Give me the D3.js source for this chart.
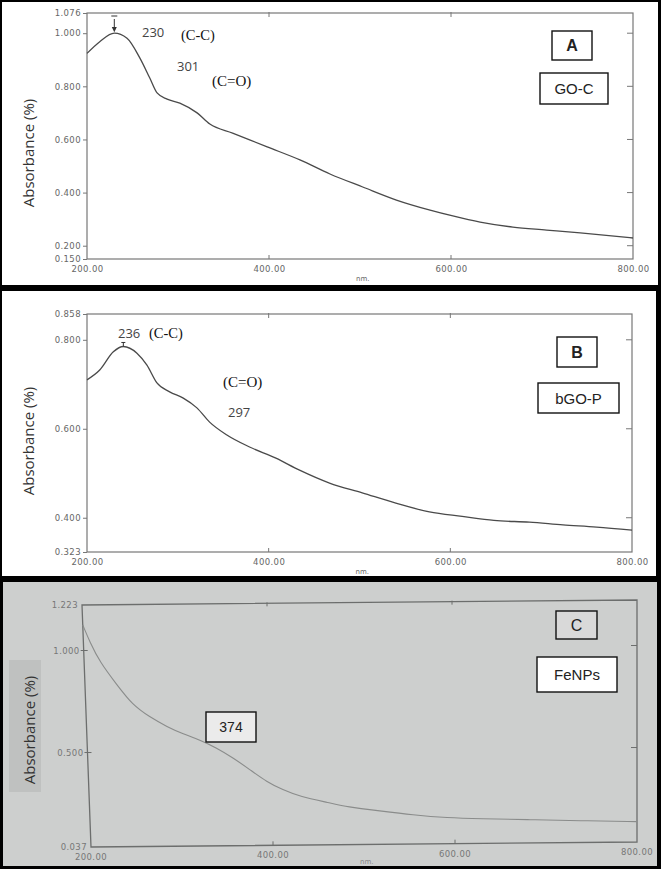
<!DOCTYPE html>
<html>

<head>
    <meta charset="utf-8">
    <style>
        body {
            margin: 0;
            background: #000;
        }

        svg {
            display: block;
        }

        .tick text {
            font-family: 'DejaVu Sans', sans-serif;
            font-size: 8.5px;
            fill: #666;
            letter-spacing: 0.4px;
        }

        .axis .domain {
            display: none;
        }

        .axis .tick line {
            stroke: #777;
        }
    </style>
</head>

<body>
    <svg width="661" height="869"></svg>
</body>

<script src="https://d3js.org/d3.v7.min.js"></script>

<script>

    // ---- data ----
    let xTicks = [200, 400, 600, 800]
    let innerXTicks = [400, 600]

    // A : GO-C
    let goC_nm = [200, 214, 230, 244, 258, 269, 277, 288, 302, 321, 335, 360, 398, 434, 467, 503, 540, 577, 602, 632, 668, 705, 742, 800]
    let goC_abs = [0.924, 0.968, 1.000, 0.981, 0.907, 0.831, 0.775, 0.752, 0.737, 0.700, 0.658, 0.624, 0.572, 0.523, 0.470, 0.421, 0.372, 0.334, 0.312, 0.289, 0.270, 0.259, 0.248, 0.229]
    let yTicksA = [0.150, 0.200, 0.400, 0.600, 0.800, 1.000, 1.076]
    let innerYTicksA = [0.200, 0.400, 0.600, 0.800, 1.000]

    // B : bGO-P
    let bgoP_nm = [200, 214, 229, 240, 255, 266, 277, 291, 306, 321, 335, 354, 379, 408, 434, 467, 503, 540, 577, 613, 648, 687, 724, 761, 800]
    let bgoP_abs = [0.710, 0.732, 0.773, 0.785, 0.770, 0.743, 0.703, 0.683, 0.669, 0.647, 0.615, 0.586, 0.559, 0.534, 0.507, 0.478, 0.456, 0.433, 0.413, 0.403, 0.394, 0.390, 0.384, 0.379, 0.372]
    let yTicksB = [0.323, 0.400, 0.600, 0.800, 0.858]
    let innerYTicksB = [0.400, 0.600, 0.800]

    // C : FeNPs
    let feNP_nm = [200, 207, 217, 235, 251, 269, 288, 305, 323, 341, 359, 377, 395, 412, 431, 463, 482, 518, 554, 592, 628, 683, 737, 800]
    let feNP_abs = [1.125, 1.042, 0.943, 0.829, 0.731, 0.672, 0.622, 0.587, 0.557, 0.517, 0.467, 0.408, 0.348, 0.309, 0.274, 0.243, 0.222, 0.201, 0.180, 0.164, 0.158, 0.151, 0.144, 0.137]
    let yTicksC = [0.037, 0.500, 1.000, 1.223]
    let innerYTicksC = [0.500, 1.000]

    let svg = d3.select("svg")

    // panel backgrounds (black shows through as the borders)
    svg.append("rect").attr("x", 2).attr("y", 2).attr("width", 656).attr("height", 283).style("fill", "white")
    svg.append("rect").attr("x", 2).attr("y", 291).attr("width", 654).attr("height", 285).style("fill", "white")
    svg.append("rect").attr("x", 3).attr("y", 582).attr("width", 654).attr("height", 284).style("fill", "#cdcfce")

    function zip(nm, ab) {
        return nm.map(function (d, i) { return { nm: d, a: ab[i] } })
    }

    function yLabel(cx, cy) {
        svg.append("text").text("Absorbance (%)")
            .attr("transform", `translate(${cx},${cy}) rotate(-90)`)
            .attr("text-anchor", "middle")
            .attr("dominant-baseline", "central")
            .attr("fill", "#333")
            .attr("font-size", "15px")
            .attr("font-family", "Open Sans")
    }

    function boxLabel(x, y, w, h, txt, fill, size, weight) {
        svg.append("rect")
            .attr("x", x).attr("y", y).attr("width", w).attr("height", h)
            .style("fill", fill).style("stroke", "#111").style("stroke-width", 1.4)
        svg.append("text").text(txt)
            .attr("x", x + w / 2).attr("y", y + h / 2)
            .attr("text-anchor", "middle")
            .attr("dominant-baseline", "central")
            .attr("fill", "#222")
            .attr("font-size", size)
            .attr("font-weight", weight)
            .attr("font-family", "Liberation Sans, Arial, sans-serif")
    }

    function plainText(txt, x, y, size, family, color) {
        svg.append("text").text(txt)
            .attr("x", x).attr("y", y)
            .attr("dominant-baseline", "central")
            .attr("fill", color)
            .attr("font-size", size)
            .attr("font-family", family)
    }

    // ---- straight spectrum panels (A and B) ----
    function drawPanel(p) {
        let x = d3.scaleLinear().domain([200, 800]).range([p.left, p.right])
        let y = d3.scaleLinear().domain(p.yDomain).range([p.bottom, p.top])

        svg.append("rect")
            .attr("x", p.left).attr("y", p.top)
            .attr("width", p.right - p.left).attr("height", p.bottom - p.top)
            .style("fill", "none").style("stroke", "#777").style("stroke-width", 1.2)

        svg.append("g")
            .attr("class", "y axis")
            .attr("transform", `translate(${p.left},0)`)
            .call(d3.axisLeft(y).tickValues(p.yTicks).tickSize(4).tickPadding(2).tickFormat(d3.format(".3f")))

        svg.append("g")
            .attr("class", "x axis")
            .attr("transform", `translate(0,${p.bottom})`)
            .call(d3.axisBottom(x).tickValues(xTicks).tickSize(0).tickPadding(7).tickFormat(d3.format(".2f")))

        // inner tick marks
        innerXTicks.forEach(function (t) {
            svg.append("line").attr("x1", x(t)).attr("x2", x(t)).attr("y1", p.bottom).attr("y2", p.bottom - 4)
                .style("stroke", "#777")
            svg.append("line").attr("x1", x(t)).attr("x2", x(t)).attr("y1", p.top - 1).attr("y2", p.top + 4)
                .style("stroke", "#777")
        })
        p.innerY.forEach(function (t) {
            svg.append("line").attr("x1", p.right).attr("x2", p.right - 6).attr("y1", y(t)).attr("y2", y(t))
                .style("stroke", "#777")
        })

        svg.append("text").text("nm.")
            .attr("x", x(500) - 4).attr("y", p.bottom + 22)
            .attr("fill", "#666").attr("font-size", "7px").attr("font-family", "DejaVu Sans")

        let line = d3.line()
            .x(function (d) { return x(d.nm) })
            .y(function (d) { return y(d.a) })
            .curve(d3.curveMonotoneX)

        svg.append("path")
            .attr("d", line(p.data))
            .style("fill", "none")
            .style("stroke", "#4a4a4a")
            .style("stroke-width", 1.3)

        return { x: x, y: y }
    }

    let a = drawPanel({
        left: 87, right: 633, top: 13, bottom: 259,
        yDomain: [0.150, 1.076], yTicks: yTicksA, innerY: innerYTicksA,
        data: zip(goC_nm, goC_abs)
    })

    // peak arrow on A
    svg.append("line").attr("x1", a.x(230) - 3).attr("x2", a.x(230) + 3).attr("y1", 16).attr("y2", 16)
        .style("stroke", "#333").style("stroke-width", 1)
    svg.append("line").attr("x1", a.x(230)).attr("x2", a.x(230)).attr("y1", 19).attr("y2", 28)
        .style("stroke", "#333").style("stroke-width", 1)
    svg.append("path")
        .attr("d", `M${a.x(230) - 2.5},27 L${a.x(230) + 2.5},27 L${a.x(230)},${a.y(1.0) - 1} Z`)
        .style("fill", "#333")

    plainText("230", 142, 32, "13px", "Open Sans", "#444")
    plainText("(C-C)", 181, 35, "14.5px", "Liberation Serif", "#111")
    plainText("301", 177, 66, "13px", "Open Sans", "#444")
    plainText("(C=O)", 212, 81, "15px", "Liberation Serif", "#111")
    yLabel(28, 153)
    boxLabel(552, 31, 40, 29, "A", "white", "16px", "bold")
    boxLabel(540, 73, 68, 31, "GO-C", "white", "15px", "normal")

    let b = drawPanel({
        left: 87, right: 632, top: 314, bottom: 552,
        yDomain: [0.323, 0.858], yTicks: yTicksB, innerY: innerYTicksB,
        data: zip(bgoP_nm, bgoP_abs)
    })

    // little peak mark on B
    svg.append("line").attr("x1", b.x(240) - 2).attr("x2", b.x(240) + 2).attr("y1", b.y(0.785) - 4).attr("y2", b.y(0.785) - 4)
        .style("stroke", "#333")
    svg.append("line").attr("x1", b.x(240)).attr("x2", b.x(240)).attr("y1", b.y(0.785) - 4).attr("y2", b.y(0.785))
        .style("stroke", "#333")

    plainText("236", 118, 333, "13px", "Open Sans", "#444")
    plainText("(C-C)", 149, 333, "14.5px", "Liberation Serif", "#111")
    plainText("(C=O)", 223, 382, "15px", "Liberation Serif", "#111")
    plainText("297", 228, 412, "13px", "Open Sans", "#444")
    yLabel(28, 441)
    boxLabel(557, 337, 40, 30, "B", "white", "16px", "bold")
    boxLabel(538, 383, 81, 30, "bGO-P", "white", "15px", "normal")

    // ---- C: photographed, slightly skewed frame ----
    let TL = [82, 605], TR = [637, 600], BL = [91, 847], BR = [637, 842]

    function proj(u, v) {
        let tx = TL[0] + (TR[0] - TL[0]) * u, ty = TL[1] + (TR[1] - TL[1]) * u
        let bx = BL[0] + (BR[0] - BL[0]) * u, by = BL[1] + (BR[1] - BL[1]) * u
        return [tx + (bx - tx) * v, ty + (by - ty) * v]
    }

    let xC = d3.scaleLinear().domain([200, 800]).range([0, 1])
    let yC = d3.scaleLinear().domain([0.037, 1.223]).range([1, 0])

    // darker patch behind the y label
    svg.append("rect").attr("x", 9).attr("y", 660).attr("width", 32).attr("height", 132)
        .style("fill", "#bfc1c0")

    svg.append("path")
        .attr("d", `M${TL}L${TR}L${BR}L${BL}Z`)
        .style("fill", "none").style("stroke", "#6c6e6d").style("stroke-width", 1.3)

    yTicksC.forEach(function (t) {
        let p = proj(0, yC(t))
        svg.append("text").text(d3.format(".3f")(t))
            .attr("x", p[0] - 4).attr("y", p[1])
            .attr("text-anchor", "end").attr("dominant-baseline", "central")
            .attr("fill", "#777").attr("font-size", "8.5px").attr("letter-spacing", "0.4px")
            .attr("font-family", "DejaVu Sans")
    })
    innerYTicksC.forEach(function (t) {
        let p = proj(0, yC(t)), q = proj(1, yC(t))
        svg.append("line").attr("x1", p[0] - 3).attr("x2", p[0] + 4).attr("y1", p[1]).attr("y2", p[1])
            .style("stroke", "#6c6e6d")
        svg.append("line").attr("x1", q[0]).attr("x2", q[0] - 6).attr("y1", q[1]).attr("y2", q[1])
            .style("stroke", "#6c6e6d")
    })
    xTicks.forEach(function (t) {
        let p = proj(xC(t), 1)
        svg.append("text").text(d3.format(".2f")(t))
            .attr("x", p[0]).attr("y", p[1] + 10)
            .attr("text-anchor", "middle").attr("dominant-baseline", "central")
            .attr("fill", "#777").attr("font-size", "8.5px").attr("letter-spacing", "0.4px")
            .attr("font-family", "DejaVu Sans")
    })
    innerXTicks.forEach(function (t) {
        let p = proj(xC(t), 1), q = proj(xC(t), 0)
        svg.append("line").attr("x1", p[0]).attr("x2", p[0]).attr("y1", p[1]).attr("y2", p[1] - 4)
            .style("stroke", "#6c6e6d")
        svg.append("line").attr("x1", q[0]).attr("x2", q[0]).attr("y1", q[1] - 1).attr("y2", q[1] + 3)
            .style("stroke", "#6c6e6d")
    })
    let nmPos = proj(xC(500), 1)
    svg.append("text").text("nm.")
        .attr("x", nmPos[0] - 4).attr("y", nmPos[1] + 19)
        .attr("fill", "#888").attr("font-size", "7px").attr("font-family", "DejaVu Sans")

    // smoother curve for the photographed trace
    let lineC = d3.line()
        .x(function (d) { return proj(xC(d.nm), yC(d.a))[0] })
        .y(function (d) { return proj(xC(d.nm), yC(d.a))[1] })
        .curve(d3.curveBasis)

    svg.append("path")
        .attr("d", lineC(zip(feNP_nm, feNP_abs)))
        .style("fill", "none")
        .style("stroke", "#8a8c8b")
        .style("stroke-width", 1.1)

    yLabel(29, 730)
    boxLabel(206, 712, 50, 30, "374", "#ebebeb", "14px", "normal")
    boxLabel(556, 611, 41, 28, "C", "#d9d9d9", "16px", "normal")
    boxLabel(537, 657, 80, 35, "FeNPs", "white", "15px", "normal")

</script>

</html>
